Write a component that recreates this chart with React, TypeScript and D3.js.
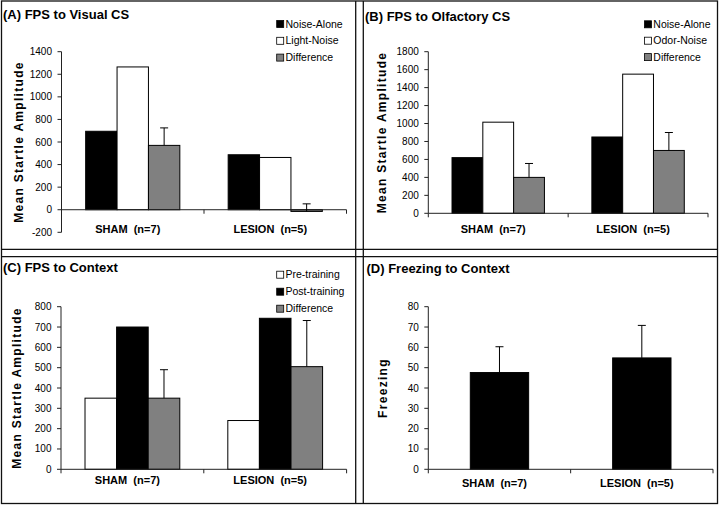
import React from "react";
import * as d3 from "d3";

const FONT = "'Liberation Sans', Arial, Helvetica, sans-serif";

// ---------- Panel A : FPS to Visual CS ----------
const categoriesA = ["SHAM  (n=7)", "LESION  (n=5)"];
const seriesNamesA = ["Noise-Alone", "Light-Noise", "Difference"];
const noiseAloneA = [695, 487];
const lightNoiseA = [1265, 463];
const differenceA = [570, -15];
const differenceErrA = [155, 67];
const ticksA = [-200, 0, 200, 400, 600, 800, 1000, 1200, 1400];

// ---------- Panel B : FPS to Olfactory CS ----------
const categoriesB = ["SHAM  (n=7)", "LESION  (n=5)"];
const seriesNamesB = ["Noise-Alone", "Odor-Noise", "Difference"];
const noiseAloneB = [620, 850];
const odorNoiseB = [1015, 1550];
const differenceB = [400, 700];
const differenceErrB = [155, 200];
const ticksB = [0, 200, 400, 600, 800, 1000, 1200, 1400, 1600, 1800];

// ---------- Panel C : FPS to Context ----------
const categoriesC = ["SHAM  (n=7)", "LESION  (n=5)"];
const seriesNamesC = ["Pre-training", "Post-training", "Difference"];
const preTrainingC = [350, 240];
const postTrainingC = [700, 743];
const differenceC = [350, 505];
const differenceErrC = [140, 227];
const ticksC = [0, 100, 200, 300, 400, 500, 600, 700, 800];

// ---------- Panel D : Freezing to Context ----------
const categoriesD = ["SHAM  (n=7)", "LESION  (n=5)"];
const freezingD = [47.6, 54.8];
const freezingErrD = [12.7, 16];
const ticksD = [0, 10, 20, 30, 40, 50, 60, 70, 80];

const BLACK = "#000000";
const WHITE = "#ffffff";
const GREY = "#808080";

type Series = { name: string; values: number[]; fill: string; err?: number[] };
type PanelCfg = {
  title: string;
  titleX: number;
  titleY: number;
  yLabel: string;
  yLabelX: number;
  categories: string[];
  series: Series[];
  ticks: number[];
  x0: number;
  x1: number;
  yTop: number;
  yBottom: number;
  catLabelY: number;
  outerPad: number;
  legend?: { x: number; y: number; dy: number };
};

const panels: PanelCfg[] = [
  {
    title: "(A) FPS to Visual CS",
    titleX: 3,
    titleY: 19.3,
    yLabel: "Mean Startle Amplitude",
    yLabelX: 23,
    categories: categoriesA,
    series: [
      { name: seriesNamesA[0], values: noiseAloneA, fill: BLACK },
      { name: seriesNamesA[1], values: lightNoiseA, fill: WHITE },
      { name: seriesNamesA[2], values: differenceA, fill: GREY, err: differenceErrA },
    ],
    ticks: ticksA,
    x0: 61.5,
    x1: 346.5,
    yTop: 51.7,
    yBottom: 232.3,
    catLabelY: 233,
    outerPad: 0.77,
    legend: { x: 276.7, y: 24, dy: 16.8 },
  },
  {
    title: "(B) FPS to Olfactory CS",
    titleX: 365,
    titleY: 20.5,
    yLabel: "Mean Startle Amplitude",
    yLabelX: 386,
    categories: categoriesB,
    series: [
      { name: seriesNamesB[0], values: noiseAloneB, fill: BLACK },
      { name: seriesNamesB[1], values: odorNoiseB, fill: WHITE },
      { name: seriesNamesB[2], values: differenceB, fill: GREY, err: differenceErrB },
    ],
    ticks: ticksB,
    x0: 428.3,
    x1: 708,
    yTop: 51.7,
    yBottom: 213.3,
    catLabelY: 233,
    outerPad: 0.77,
    legend: { x: 644.5, y: 24.3, dy: 16.4 },
  },
  {
    title: "(C) FPS to Context",
    titleX: 3,
    titleY: 272.3,
    yLabel: "Mean Startle Amplitude",
    yLabelX: 20.5,
    categories: categoriesC,
    series: [
      { name: seriesNamesC[0], values: preTrainingC, fill: WHITE },
      { name: seriesNamesC[1], values: postTrainingC, fill: BLACK },
      { name: seriesNamesC[2], values: differenceC, fill: GREY, err: differenceErrC },
    ],
    ticks: ticksC,
    x0: 61,
    x1: 346.6,
    yTop: 306.7,
    yBottom: 469.3,
    catLabelY: 484,
    outerPad: 0.76,
    legend: { x: 276.7, y: 274.7, dy: 17 },
  },
  {
    title: "(D) Freezing to Context",
    titleX: 366.5,
    titleY: 273.3,
    yLabel: "Freezing",
    yLabelX: 387,
    categories: categoriesD,
    series: [{ name: "Freezing", values: freezingD, fill: BLACK, err: freezingErrD }],
    ticks: ticksD,
    x0: 428.3,
    x1: 713,
    yTop: 306.7,
    yBottom: 469.3,
    catLabelY: 487,
    outerPad: 0.72,
  },
];

function Panel({ cfg }: { cfg: PanelCfg }) {
  const domain = d3.extent(cfg.ticks) as [number, number];
  const y = d3.scaleLinear().domain(domain).range([cfg.yBottom, cfg.yTop]);
  const xCat = d3.scaleBand<string>().domain(cfg.categories).range([cfg.x0, cfg.x1]);
  const xSer = d3
    .scaleBand<string>()
    .domain(cfg.series.map((s) => s.name))
    .range([0, xCat.bandwidth()])
    .paddingInner(0)
    .paddingOuter(cfg.outerPad);
  const bw = xSer.bandwidth();
  const y0 = y(0);
  const boundaries = [cfg.x0, ...cfg.categories.map((c) => (xCat(c) as number) + xCat.bandwidth())];
  const yMid = (cfg.yTop + cfg.yBottom) / 2;

  return (
    <g>
      <text x={cfg.titleX} y={cfg.titleY} fontFamily={FONT} fontWeight="bold" fontSize={13}>
        {cfg.title}
      </text>
      {/* bars */}
      {cfg.series.map((s) =>
        s.values.map((v, i) => {
          const cat = cfg.categories[i];
          const x = (xCat(cat) as number) + (xSer(s.name) as number);
          const top = y(Math.max(0, v));
          const h = Math.abs(y(v) - y0);
          return (
            <rect
              key={s.name + i}
              x={x}
              y={top}
              width={bw}
              height={h}
              fill={s.fill}
              stroke="#000"
              strokeWidth={1}
            />
          );
        })
      )}
      {/* x axis */}
      <line x1={cfg.x0} x2={cfg.x1} y1={y0} y2={y0} stroke="#222" strokeWidth={1} />
      {boundaries.map((bx, i) => (
        <line key={"xt" + i} x1={bx} x2={bx} y1={y0} y2={y0 + 4} stroke="#222" strokeWidth={1} />
      ))}
      {/* y axis */}
      <line x1={cfg.x0} x2={cfg.x0} y1={cfg.yTop} y2={cfg.yBottom} stroke="#222" strokeWidth={1} />
      {cfg.ticks.map((t) => (
        <g key={"yt" + t}>
          <line x1={cfg.x0 - 4} x2={cfg.x0} y1={y(t)} y2={y(t)} stroke="#222" strokeWidth={1} />
          <text
            x={cfg.x0 - 9.5}
            y={y(t)}
            dy="0.35em"
            textAnchor="end"
            fontFamily={FONT}
            fontSize={10}
          >
            {t}
          </text>
        </g>
      ))}
      {/* error bars */}
      {cfg.series.map((s) =>
        s.err
          ? s.values.map((v, i) => {
              const cat = cfg.categories[i];
              const cx = (xCat(cat) as number) + (xSer(s.name) as number) + bw / 2;
              const e = s.err![i];
              return (
                <g key={"err" + s.name + i}>
                  <line x1={cx} x2={cx} y1={y(v)} y2={y(v + e)} stroke="#000" strokeWidth={1} />
                  <line x1={cx - 4} x2={cx + 4} y1={y(v + e)} y2={y(v + e)} stroke="#000" strokeWidth={1} />
                </g>
              );
            })
          : null
      )}
      {/* category labels */}
      {cfg.categories.map((c) => (
        <text
          key={"cl" + c}
          x={(xCat(c) as number) + xCat.bandwidth() / 2 - 5}
          y={cfg.catLabelY}
          textAnchor="middle"
          fontFamily={FONT}
          fontWeight="bold"
          fontSize={11}
          style={{ whiteSpace: "pre" }}
        >
          {c}
        </text>
      ))}
      {/* y label */}
      <text
        transform={`translate(${cfg.yLabelX},${yMid}) rotate(-90)`}
        textAnchor="middle"
        fontFamily={FONT}
        fontWeight="bold"
        fontSize={12}
        letterSpacing={1.3}
      >
        {cfg.yLabel}
      </text>
      {/* legend */}
      {cfg.legend
        ? cfg.series.map((s, i) => (
            <g key={"lg" + s.name}>
              <rect
                x={cfg.legend!.x}
                y={cfg.legend!.y + i * cfg.legend!.dy - 3.5}
                width={7}
                height={7}
                fill={s.fill}
                stroke="#000"
                strokeWidth={0.8}
              />
              <text
                x={cfg.legend!.x + 8.8}
                y={cfg.legend!.y + i * cfg.legend!.dy}
                dy="0.35em"
                fontFamily={FONT}
                fontSize={10.5}
              >
                {s.name}
              </text>
            </g>
          ))
        : null}
    </g>
  );
}

export default function App() {
  const W = 720;
  const H = 506;
  return (
    <svg
      width={W}
      height={H}
      viewBox={`0 0 ${W} ${H}`}
      style={{ position: "absolute", left: 0, top: 0, background: "#fff", display: "block" }}
    >
      <rect x={0} y={0} width={W} height={H} fill="#fff" />
      {/* frames */}
      <g stroke="#111" strokeWidth={1.3} fill="none">
        <rect x={1.5} y={1} width={716} height={502.5} />
        <line x1={355.7} x2={355.7} y1={1} y2={503.5} />
        <line x1={363.3} x2={363.3} y1={1} y2={503.5} />
        <line x1={1.5} x2={717.5} y1={249.3} y2={249.3} />
        <line x1={1.5} x2={717.5} y1={256.7} y2={256.7} />
      </g>
      {panels.map((p) => (
        <Panel key={p.title} cfg={p} />
      ))}
    </svg>
  );
}
